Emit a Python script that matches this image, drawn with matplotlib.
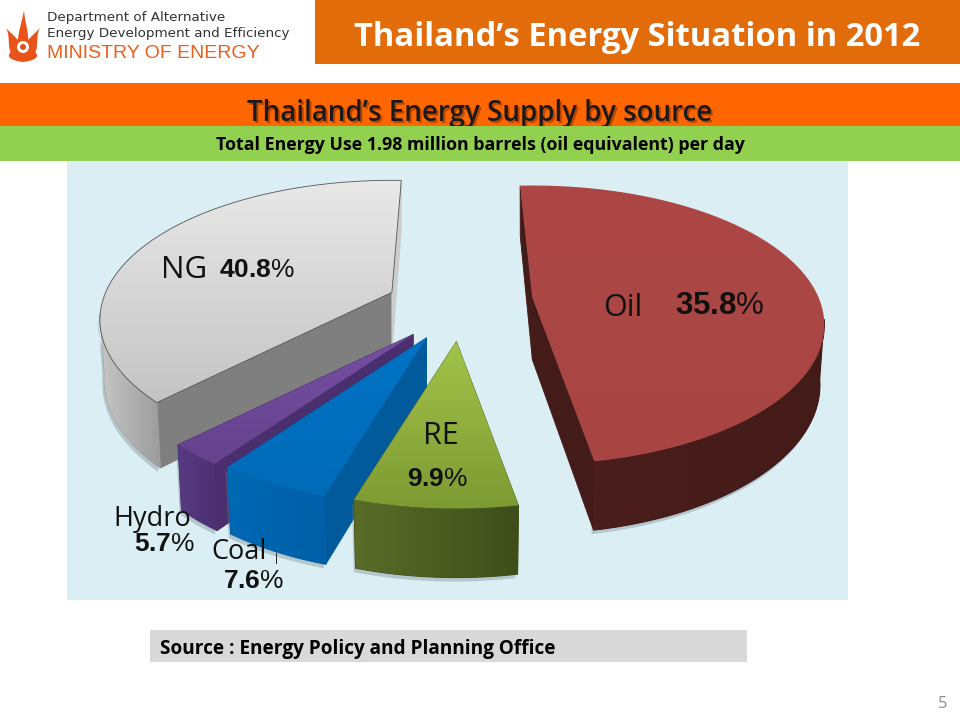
import numpy as np
import matplotlib
matplotlib.use('Agg')
import matplotlib.pyplot as plt
from matplotlib.colors import to_rgb
from matplotlib.patches import Polygon, Rectangle, Circle

plt.rcParams['mathtext.fontset'] = 'custom'
plt.rcParams['mathtext.bf'] = 'Liberation Sans:bold'
plt.rcParams['mathtext.rm'] = 'Liberation Sans'

# values from the slide
labels = ['Oil', 'RE', 'Coal', 'Hydro', 'NG']
shares = [35.8, 9.9, 7.6, 5.7, 40.8]

# the slide's pie is strongly warped, so every slice gets its own sweep factor
stretch = [1.32, 0.92, 0.82, 0.52, 0.873]
explode = [0.42, 0.19, 0.12, 0.11, 0.113]
lift = [13, 8, 9, 8, -16]

top_colors = [('#AC4745', '#A84543'), ('#A2C348', '#7E9A33'), ('#0072C4', '#006CB8'),
              ('#7650A4', '#64428C'), ('#E8E8E8', '#C4C4C4')]
wall_colors = [('#4A1E1C', '#431B19'), ('#5A6C28', '#3E4E1B'), ('#0068B4', '#005FA6'),
               ('#583A82', '#4C3070'), ('#C6C6C6', '#9C9C9C')]
cut_near = ['#431B19', '#56681F', '#005A9C', '#4A2F6E', '#7F7F7F']
cut_far = ['#431B19', '#56681F', '#005A9C', '#4A2F6E', '#CCCCCC']

cx, cy = 424, 312
rx, ry, sag = 292, 139.5, 27.5
bottom_shrink = 0.985


def ring(theta):
    return rx * np.sin(theta), sag - ry * np.cos(theta)


def wall_h(theta):
    return 60 - 9 * np.cos(theta)


def gradient_fill(ax, poly, c1, c2, z, horizontal=False):
    # two colour gradient clipped to the polygon
    t = np.linspace(0, 1, 64)
    img = np.outer(1 - t, to_rgb(c1)) + np.outer(t, to_rgb(c2))
    img = img[None, :, :] if horizontal else img[:, None, :]
    x0, y0 = poly.min(axis=0)
    x1, y1 = poly.max(axis=0)
    im = ax.imshow(img, extent=[x0, x1, y1, y0], aspect='auto', zorder=z)
    patch = Polygon(poly, closed=True, transform=ax.transData, fc='none', ec='none')
    ax.add_patch(patch)
    im.set_clip_path(patch)


def leaf(ax, x, y, height, width, lean, color, z=3):
    t = np.linspace(0, 1, 40)
    mid = x + lean * t ** 2
    half = width * np.sin(np.pi * t ** 0.7) * (1 - t) ** 0.3
    ax.fill(np.r_[mid - half, (mid + half)[::-1]], np.r_[y - height * t, (y - height * t)[::-1]],
            color=color, lw=0, zorder=z)


fig = plt.figure(figsize=(9.6, 7.2), dpi=100)
ax = fig.add_axes([0, 0, 1, 1])
ax.axis('off')
font = 'Open Sans'

# header bands
ax.add_patch(Rectangle((315, 0), 645, 64, fc='#E36C0A', ec='none'))
ax.add_patch(Rectangle((0, 83), 960, 43, fc='#FF6600', ec='none'))
ax.add_patch(Rectangle((67, 161), 781, 439, fc='#DAEEF3', ec='none'))
ax.add_patch(Rectangle((150, 630), 597, 32, fc='#D9D9D9', ec='none'))

ax.text(637, 37, 'Thailand\u2019s Energy Situation in 2012', color='white', fontsize=23.6,
        fontweight='bold', family=font, ha='center', va='center')
ax.text(481.5, 115.5, 'Thailand\u2019s Energy Supply by source', color='#A84000', fontsize=20,
        fontweight='semibold', family=font, ha='center', va='center', alpha=0.8)
ax.text(480, 114, 'Thailand\u2019s Energy Supply by source', color='#1A1A1A', fontsize=20,
        fontweight='semibold', family=font, ha='center', va='center')
ax.add_patch(Rectangle((0, 126), 960, 35, fc='#92D050', ec='none', zorder=4))
ax.text(480, 145, 'Total Energy Use 1.98 million barrels (oil equivalent) per day', color='black',
        fontsize=12.8, fontweight='bold', family=font, ha='center', va='center', zorder=5)
ax.text(160, 649, 'Source : Energy Policy and Planning Office', color='black', fontsize=13.7,
        fontweight='bold', family=font, ha='left', va='center')
ax.text(943, 704, '5', color='#8C8C8C', fontsize=12, family=font, ha='center', va='center')

# logo
ax.text(47, 18, 'Department of Alternative', fontsize=9.7, color='#333333', family='DejaVu Sans',
        ha='left', va='center')
ax.text(47, 33, 'Energy Development and Efficiency', fontsize=9.7, color='#333333', family='DejaVu Sans',
        ha='left', va='center')
ax.text(47, 53, 'MINISTRY OF ENERGY', fontsize=14, color='#E8601C', family='Liberation Sans',
        ha='left', va='center')
flame_col = '#E8531A'
leaf(ax, 23, 58, 48, 6, 1, flame_col)
leaf(ax, 18, 60, 32, 8, -12, flame_col)
leaf(ax, 28, 60, 32, 8, 12, flame_col)
leaf(ax, 23, 62, 20, 16, 0, flame_col)
ax.add_patch(Circle((23, 47), 6, fc='white', ec='none', zorder=4))
ax.add_patch(Circle((23, 47), 3, fc=flame_col, ec='none', zorder=5))

# pie, drawn back to front
sweeps = np.radians(np.array(shares) * 3.6 * np.array(stretch))
edges = np.radians(-2.4) + np.concatenate([[0], np.cumsum(sweeps)])
order = [4, 0, 3, 2, 1]
for i in order:
    a0, a1 = edges[i], edges[i + 1]
    mid = np.radians(np.array(shares[:i]).sum() * 3.6 + shares[i] * 1.8 - 2.4)
    ax0 = cx + explode[i] * rx * np.sin(mid)
    ay0 = cy - explode[i] * ry * np.cos(mid) + lift[i]
    th = np.linspace(a0, a1, 120)
    px, py = ring(th)
    px, py = px + ax0, py + ay0
    qx = ax0 + (px - ax0) * bottom_shrink
    h = wall_h(th)
    base = 20 + order.index(i) * 5
    # cut faces first
    for k, col in [(0, cut_near[i]), (-1, cut_far[i])]:
        ax.add_patch(Polygon([(ax0, ay0), (px[k], py[k]), (qx[k], py[k] + h[k]), (ax0, ay0 + 62)], closed=True,
                             fc=col, ec=col, lw=0.6, zorder=base))
    # outer wall, only the part that faces the viewer
    seen = np.cos(th) <= 0.05
    if seen.any():
        wall = np.column_stack([np.r_[px[seen], qx[seen][::-1]],
                                np.r_[py[seen], (py + h)[seen][::-1]]])
        ax.add_patch(Polygon(wall + [-2, 4], closed=True, fc='#6F7F88', ec='none', alpha=0.35, zorder=base - 1))
        ax.add_patch(Polygon(wall, closed=True, fc=wall_colors[i][1], ec=wall_colors[i][1], lw=0.8, zorder=base + 1))
        gradient_fill(ax, wall, wall_colors[i][0], wall_colors[i][1], base + 1, horizontal=True)
    top = np.column_stack([np.r_[ax0, px], np.r_[ay0, py]])
    gradient_fill(ax, top, top_colors[i][0], top_colors[i][1], base + 2)
    if labels[i] == 'NG':
        ax.add_patch(Polygon(top, closed=True, fc='none', ec='#555555', lw=0.6, zorder=base + 3))

ax.set_xlim(0, 960)
ax.set_ylim(720, 0)

# slice labels
name_pos = {'Oil': (623, 308, 22), 'RE': (441, 436, 22), 'Coal': (239, 552, 19.5), 'Hydro': (152, 519, 19.5), 'NG': (184, 270, 22.5)}
val_pos = {'Oil': (720, 306, 22.5), 'RE': (438, 479, 19), 'Coal': (254, 581, 19), 'Hydro': (165, 544, 19), 'NG': (257, 270, 19)}
for name, v in zip(labels, shares):
    x, y, fs = name_pos[name]
    ax.text(x, y, name, fontsize=fs, color='#111111', family=font, ha='center', va='center', zorder=60)
    x, y, fs = val_pos[name]
    ax.text(x, y, f'$\\mathbf{{{v}}}$%', fontsize=fs, color='#111111', family='Liberation Sans',
            ha='center', va='center', zorder=60)
ax.plot([276, 276], [553, 563], color='#222222', lw=0.7, zorder=60)

fig.savefig('out.png', dpi=100)
